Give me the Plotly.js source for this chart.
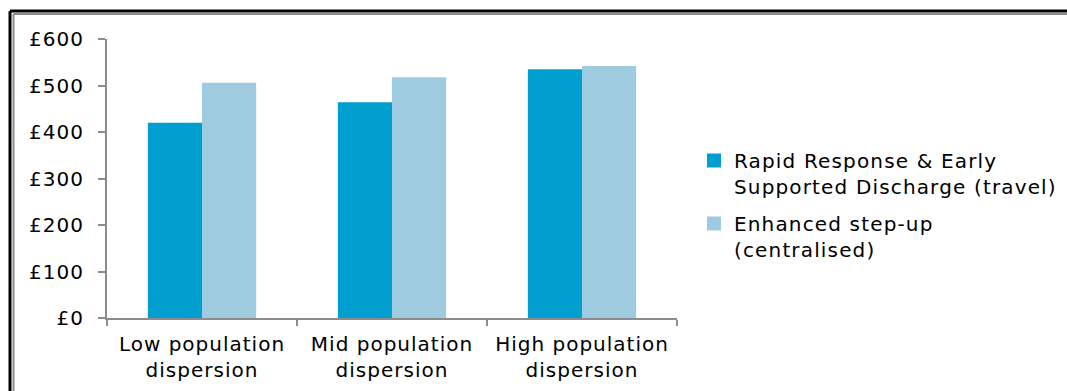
<!DOCTYPE html>
<html><head><meta charset="utf-8">
<script src="https://cdn.plot.ly/plotly-3.0.1.min.js"></script>
<style>html,body{margin:0;padding:0;background:#fff;}#c{width:1067px;height:391px;}
.xtick text, .ytick text{letter-spacing:1px;}
.legendtext{letter-spacing:1.15px;}
</style>
</head><body><div id="c"></div>
<script>
var categories = ["Low population<br>dispersion", "Mid population<br>dispersion", "High population<br>dispersion"];
var seriesNames = ["Rapid Response & Early<br>Supported Discharge (travel)", "Enhanced step-up<br>(centralised)"];
var rapidResponse = [420, 464, 535];
var enhancedStepUp = [506, 518, 542];
var yTickVals = [0, 100, 200, 300, 400, 500, 600];
var yTickText = ["£0", "£100", "£200", "£300", "£400", "£500", "£600"];
var colors = ["rgb(0,159,207)", "rgb(158,203,224)"];

var L = 107, R = 677, T = 39, B = 318;
function px(x){ return (x - L) / (R - L); }
function py(y){ return (B - y) / (B - T); }

var traces = [
  {type:"bar", name: seriesNames[0], x: categories, y: rapidResponse, showlegend:false,
   marker:{color:colors[0], line:{width:0}}},
  {type:"bar", name: seriesNames[1], x: categories, y: enhancedStepUp, showlegend:false,
   marker:{color:colors[1], line:{width:0}}},
  {type:"scatter", mode:"markers", name: seriesNames[0], x:[null], y:[null], legendgroup:"g1",
   marker:{symbol:"square", size:14, color:colors[0]}},
  {type:"scatter", mode:"markers", name: seriesNames[1], x:[null], y:[null], legendgroup:"g2",
   marker:{symbol:"square", size:14, color:colors[1]}}
];
var FONT = "DejaVu Sans, Liberation Sans, Arial, sans-serif";
var layout = {
  width:1067, height:391,
  margin:{l:L, r:1067-R, t:T, b:391-B, pad:0, autoexpand:false},
  paper_bgcolor:"#fff", plot_bgcolor:"#fff",
  font:{family:FONT, size:20, color:"#000"},
  barmode:"group", bargap:0.43, bargroupgap:0,
  showlegend:true,
  legend:{x:px(694), y:py(141), xanchor:"left", yanchor:"top", font:{size:20, family:FONT},
          traceorder:"grouped", tracegroupgap:8, itemwidth:30, valign:"top",
          bgcolor:"rgba(0,0,0,0)", borderwidth:0},
  xaxis:{showline:true, linecolor:"#8c8c8c", linewidth:2, ticks:"outside", tickson:"boundaries",
         ticklen:6, tickwidth:2, tickcolor:"#8c8c8c", showgrid:false, zeroline:false,
         tickfont:{size:20, family:FONT}, ticklabelstandoff:7, automargin:false},
  yaxis:{range:[0,600], tickvals:yTickVals, ticktext:yTickText, showline:true, linecolor:"#8c8c8c",
         linewidth:2, ticks:"outside", ticklen:7, tickwidth:2, tickcolor:"#8c8c8c",
         showgrid:false, zeroline:false, tickfont:{size:20, family:FONT}, ticklabelstandoff:10, automargin:false},
  shapes:[
    {type:"line", xref:"paper", yref:"paper", x0:px(10), x1:px(1080), y0:py(11), y1:py(11), line:{color:"#000", width:3}},
    {type:"line", xref:"paper", yref:"paper", x0:px(10), x1:px(10), y0:py(11), y1:py(400), line:{color:"#000", width:3}},
    {type:"line", xref:"paper", yref:"paper", x0:px(13.5), x1:px(1080), y0:py(14), y1:py(14), line:{color:"#8c8c8c", width:2}},
    {type:"line", xref:"paper", yref:"paper", x0:px(13.5), x1:px(13.5), y0:py(14), y1:py(400), line:{color:"#8c8c8c", width:2}}
  ]
};
Plotly.newPlot("c", traces, layout, {displayModeBar:false, staticPlot:true});
</script></body></html>
